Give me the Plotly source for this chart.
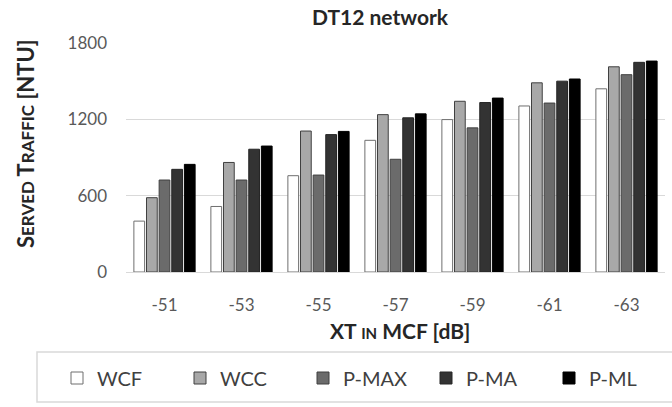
import plotly.graph_objects as go

categories = ["-51", "-53", "-55", "-57", "-59", "-61", "-63"]
wcf = [400, 515, 757, 1035, 1198, 1305, 1440]
wcc = [584, 861, 1108, 1237, 1342, 1487, 1613]
pmax = [723, 723, 762, 886, 1133, 1328, 1551]
pma = [807, 965, 1080, 1212, 1332, 1500, 1648]
pml = [846, 990, 1105, 1243, 1367, 1517, 1658]

series = [
    ("WCF", wcf, "#ffffff", "#6f6f6f"),
    ("WCC", wcc, "#a8a8a8", "#404040"),
    ("P-MAX", pmax, "#6b6b6b", "#404040"),
    ("P-MA", pma, "#333333", "#262626"),
    ("P-ML", pml, "#000000", "#000000"),
]

FONT = "Lato"
fig = go.Figure()
for name, vals, col, lc in series:
    fig.add_trace(go.Bar(
        x=categories, y=vals, name=name,
        marker=dict(color=col, line=dict(color=lc, width=1)),
    ))

W, H = 672, 407
ml, mr, mt, mb = 126, 7, 43, 135
pw = W - ml - mr
ph = H - mt - mb

def px_x(p):
    return (p - ml) / pw

def px_y(p):
    return (H - mb - p) / ph

fig.update_layout(
    width=W, height=H,
    margin=dict(l=ml, r=mr, t=mt, b=mb),
    paper_bgcolor="white", plot_bgcolor="white",
    barmode="group", bargap=0.18, bargroupgap=0.15,
    font=dict(family=FONT, color="#595959", size=17),
    title=dict(text="<b>DT12 network</b>", x=380 / W, xanchor="center",
               y=1 - 18 / H, yanchor="middle",
               font=dict(family=FONT, size=21, color="#262626")),
    xaxis=dict(
        showgrid=False, showline=True, linecolor="#d9d9d9", linewidth=1,
        ticks="", tickfont=dict(size=17, color="#595959"), ticklabelstandoff=18,
    ),
    yaxis=dict(
        range=[0, 1800], tickvals=[0, 600, 1200, 1800],
        showgrid=True, gridcolor="#d9d9d9", gridwidth=1, zeroline=False,
        ticks="", tickfont=dict(size=17, color="#595959"), ticklabelstandoff=18,
    ),
    annotations=[
        dict(text="<b>XT <span style='font-size:15px'>IN</span> MCF [dB]</b>",
             xref="paper", yref="paper", x=px_x(400), y=px_y(330),
             xanchor="center", yanchor="middle", showarrow=False,
             font=dict(family=FONT, size=21, color="#262626")),
        dict(text="<b>S<span style='font-size:17px'>ERVED</span> T<span style='font-size:17px'>RAFFIC</span> [NTU]</b>",
             xref="paper", yref="paper", x=px_x(25), y=px_y(144),
             xanchor="center", yanchor="middle", showarrow=False, textangle=-90,
             font=dict(family=FONT, size=22, color="#262626")),
    ],
    showlegend=True,
    legend=dict(
        orientation="h", x=px_x(77), xanchor="left", y=px_y(378), yanchor="middle",
        entrywidth=78, entrywidthmode="pixels",
        font=dict(family=FONT, size=20, color="#404040"), bgcolor="rgba(0,0,0,0)",
        itemwidth=30, traceorder="normal",
    ),
    shapes=[dict(type="rect", xref="paper", yref="paper",
                 x0=px_x(37), x1=px_x(720), y0=px_y(402), y1=px_y(352),
                 line=dict(color="#d9d9d9", width=1.5), fillcolor="rgba(0,0,0,0)", layer="below")],
)

fig.write_html("out.html")
